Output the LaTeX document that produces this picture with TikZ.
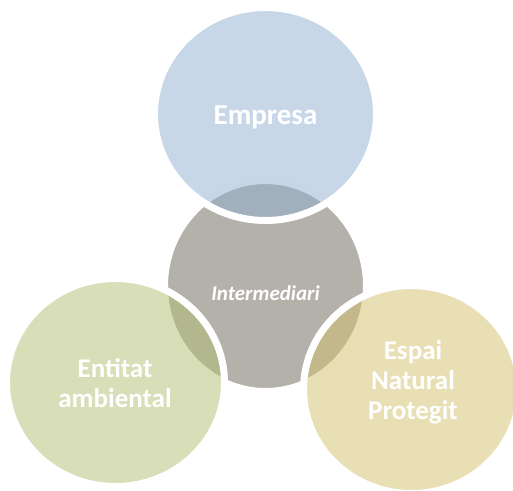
\documentclass[tikz,border=0pt]{standalone}
\usepackage{fontspec}
\setmainfont{Carlito}
\definecolor{cblue}{RGB}{145,175,209}
\definecolor{cgreen}{RGB}{177,189,113}
\definecolor{cyellow}{RGB}{209,191,107}
\definecolor{cgray}{RGB}{180,177,170}
\tikzset{
  bubble/.style={draw=white, line width=7pt, fill opacity=0.5, draw opacity=1},
  label/.style={text=white, font=\bfseries, align=center, inner sep=0pt, anchor=base}
}
\begin{document}
\begin{tikzpicture}[x=1pt,y=-1pt]
\useasboundingbox (0,0) rectangle (513,490);
% middle circle (opaque)
\path[draw=white, line width=7pt, fill=cgray] (265.5,286) ellipse [x radius=101, y radius=105.5];
% top circle
\path[bubble, fill=cblue] (265.5,114) ellipse [x radius=111, y radius=106.5];
% left circle
\path[bubble, fill=cgreen] (115.5,382.5) ellipse [x radius=109, y radius=104];
% right circle
\path[bubble, fill=cyellow] (411.5,389.5) ellipse [x radius=108, y radius=104];
% labels
\node[label, font=\bfseries\fontsize{29}{34}\selectfont] (emp) at (265.5,124) {Empresa};
\node[label, font=\bfseries\itshape\fontsize{21}{25}\selectfont] (int) at (265.5,300) {Intermediari};
\node[label, font=\bfseries\fontsize{27}{30}\selectfont] (ent) at (115,407) {Entitat\\ambiental};
\node[label, font=\bfseries\fontsize{27}{30}\selectfont] (esp) at (413,419.5) {Espai\\Natural\\Protegit};
\end{tikzpicture}
\end{document}
